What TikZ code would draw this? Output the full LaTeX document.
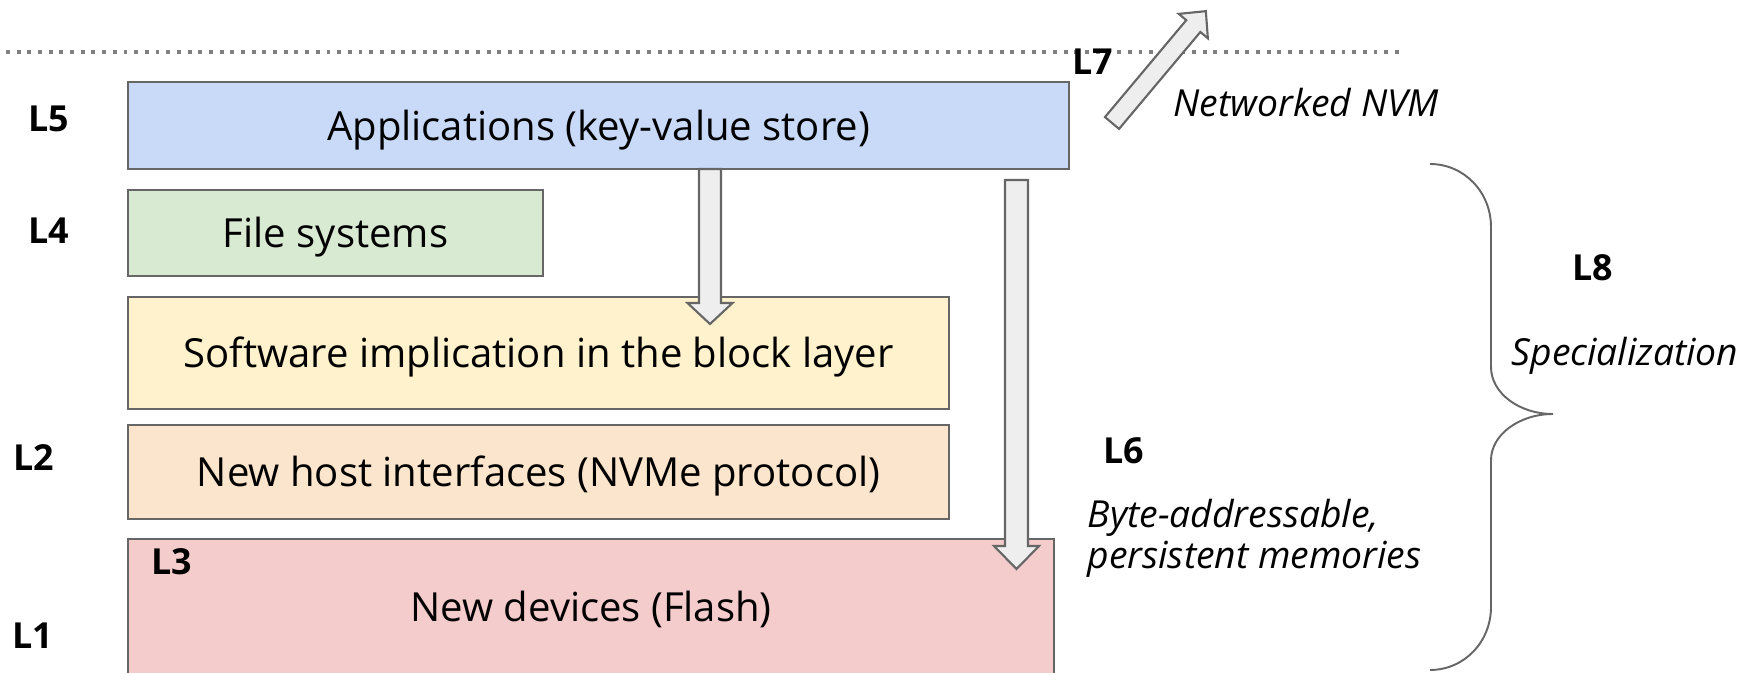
\documentclass[tikz,border=0pt]{standalone}
\usepackage{fontspec}
\setmainfont{Open Sans}
\usepackage{xcolor}
\usepackage{tikz}

\definecolor{appblue}{HTML}{C9DAF8}
\definecolor{fsgreen}{HTML}{D9EAD3}
\definecolor{blkyellow}{HTML}{FFF2CC}
\definecolor{hostorange}{HTML}{FCE5CD}
\definecolor{devred}{HTML}{F4CCCC}
\definecolor{edgegray}{HTML}{666666}
\definecolor{arrowgray}{HTML}{EEEEEE}

\begin{document}
\begin{tikzpicture}[
    layer/.style={draw=edgegray,line width=0.6pt,inner sep=0pt,anchor=north west,
      font=\fontsize{11.4}{13.7}\selectfont,text height=8.5pt,text depth=0pt},
    tag/.style={font=\fontsize{10.2}{12}\selectfont\bfseries},
    note/.style={font=\fontsize{10.6}{11.67}\selectfont\itshape,align=left,inner sep=0pt},
    pics/fatarrow/.style n args={4}{code={
      \draw[draw=edgegray,fill=arrowgray,line width=0.6pt]
        (0,-#2) -- ({#1-#4},-#2) -- ({#1-#4},-#3) -- (#1,0)
        -- ({#1-#4},#3) -- ({#1-#4},#2) -- (0,#2) -- cycle;}}
  ]
  \useasboundingbox (0,0) rectangle (17.40,-6.73);

  % --- network boundary
  \draw[black!50,line width=1.15pt,dash pattern=on 1.1pt off 1.94pt] (0.06,-0.52) -- (14.04,-0.52);

  % --- storage stack
  \node[layer,fill=appblue,minimum width=9.41cm,minimum height=0.87cm] (app) at (1.27,-0.81) {Applications (key-value store)};
  \node[layer,fill=fsgreen,minimum width=4.15cm,minimum height=0.86cm] (fs) at (1.27,-1.89) {File systems};
  \node[layer,fill=blkyellow,minimum width=8.21cm,minimum height=1.12cm] (blk) at (1.27,-2.96) {Software implication in the block layer};
  \node[layer,fill=hostorange,minimum width=8.21cm,minimum height=0.94cm] (host) at (1.27,-4.24) {New host interfaces (NVMe protocol)};
  \node[layer,fill=devred,minimum width=9.26cm,minimum height=1.36cm] (dev) at (1.27,-5.38) {New devices (Flash)};

  % --- block arrows
  \pic[rotate=-90] at (7.10,-1.69) {fatarrow={1.55}{0.11}{0.225}{0.21}};
  \pic[rotate=-90] at (10.165,-1.80) {fatarrow={3.89}{0.115}{0.225}{0.23}};
  \pic[rotate=50] at (11.12,-1.23) {fatarrow={1.46}{0.092}{0.19}{0.195}};

  % --- specialization brace
  \draw[edgegray,line width=0.55pt]
    (14.30,-1.64) .. controls (14.64,-1.64) and (14.91,-1.92) .. (14.91,-2.27)
    -- (14.91,-3.67) .. controls (14.91,-3.93) and (15.19,-4.14) .. (15.53,-4.14)
    .. controls (15.19,-4.14) and (14.91,-4.35) .. (14.91,-4.60)
    -- (14.91,-6.07) .. controls (14.91,-6.42) and (14.64,-6.70) .. (14.30,-6.70);

  % --- level tags
  \node[tag] (l5) at (0.49,-1.19) {L5};
  \node[tag] (l4) at (0.49,-2.31) {L4};
  \node[tag] (l2) at (0.34,-4.58) {L2};
  \node[tag] (l1) at (0.33,-6.36) {L1};
  \node[tag] (l3) at (1.72,-5.62) {L3};
  \node[tag] (l7) at (10.93,-0.62) {L7};
  \node[tag] (l6) at (11.24,-4.51) {L6};
  \node[tag] (l8) at (15.93,-2.68) {L8};

  % --- notes
  \node[note,anchor=base west] (nvm) at (11.73,-1.17) {Networked NVM};
  \node[note,anchor=west] (pmem) at (10.87,-5.38) {Byte-addressable,\\persistent memories};
  \node[note,anchor=base west] (spec) at (15.11,-3.66) {Specialization};
\end{tikzpicture}
\end{document}
